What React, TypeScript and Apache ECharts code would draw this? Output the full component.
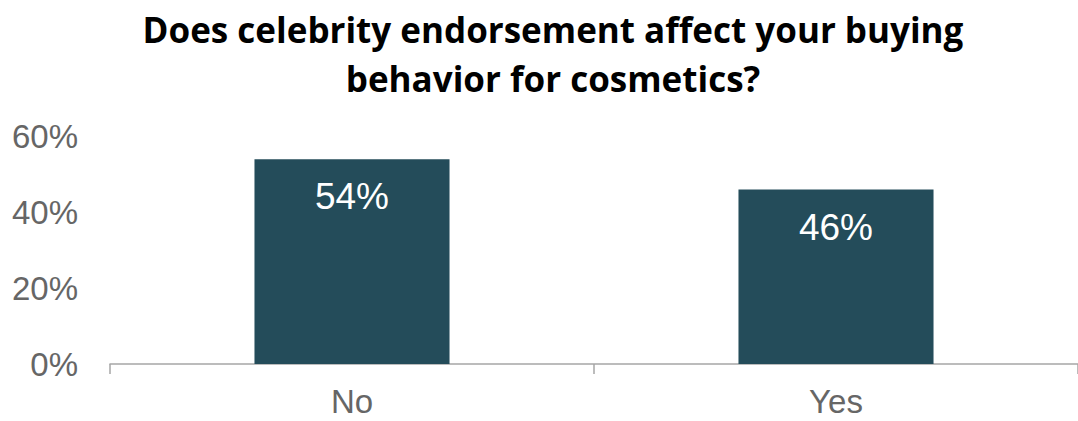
import React, { useEffect, useRef } from "react";
import * as echarts from "echarts";

const categories = ["No", "Yes"];
const values = [54, 46];
const yTicks = [0, 20, 40, 60];
const titleLines = ["Does celebrity endorsement affect your buying", "behavior for cosmetics?"];

export default function App() {
  const ref = useRef<HTMLDivElement>(null);
  useEffect(() => {
    if (!ref.current) return;
    const chart = echarts.init(ref.current, undefined, { renderer: "svg" });
    chart.setOption({
      animation: false,
      title: {
        text: titleLines.join("\n"),
        left: 548,
        textAlign: "center",
        top: 0,
        textStyle: {
          fontFamily: "Open Sans",
          fontWeight: "bold",
          fontSize: 35,
          lineHeight: 49,
          color: "#000000",
        },
      },
      grid: { left: 110, right: 0, top: 136.5, bottom: 57 },
      xAxis: {
        type: "category",
        data: categories,
        axisLine: { show: true, lineStyle: { color: "#a6a6a6", width: 1.5 } },
        axisTick: { show: true, length: 10, lineStyle: { color: "#a6a6a6", width: 1.5 } },
        axisLabel: {
          margin: 21,
          fontFamily: "Liberation Sans",
          fontSize: 33,
          color: "#666666",
        },
      },
      yAxis: {
        type: "value",
        min: yTicks[0],
        max: yTicks[yTicks.length - 1],
        interval: 20,
        splitLine: { show: false },
        axisLine: { show: false },
        axisTick: { show: false },
        axisLabel: {
          margin: 32,
          fontFamily: "Liberation Sans",
          fontSize: 33,
          color: "#666666",
          formatter: (v: number) => v + "%",
        },
      },
      series: [
        {
          type: "bar",
          data: values,
          barWidth: "40.3%",
          itemStyle: { color: "#244c5a" },
          label: {
            show: true,
            position: "insideTop",
            distance: 19,
            fontFamily: "Liberation Sans",
            fontSize: 37,
            color: "#ffffff",
            formatter: (p: any) => p.value + "%",
          },
        },
      ],
    });
    return () => chart.dispose();
  }, []);
  return (
    <div
      ref={ref}
      style={{ position: "fixed", left: 0, top: 0, width: 1078, height: 421, background: "#fff" }}
    />
  );
}
